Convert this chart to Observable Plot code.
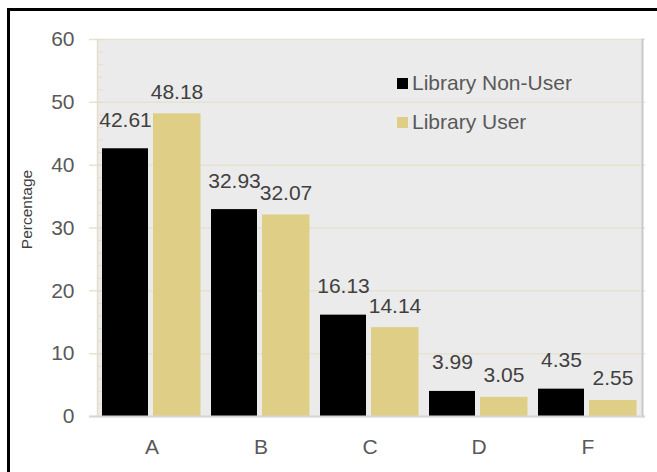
<!DOCTYPE html>
<html>
<head>
<meta charset="utf-8">
<script src="https://cdn.jsdelivr.net/npm/d3@7"></script>
<script src="https://cdn.jsdelivr.net/npm/@observablehq/plot@0.6"></script>
<style>
  html, body { margin: 0; padding: 0; background: #fff; overflow: hidden; }
  #wrap { position: relative; width: 657px; height: 472px; font-family: "Liberation Sans", Arial, sans-serif; }
  .bar-top { position: absolute; left: 7px; top: 8px; width: 650px; height: 3px; background: #000; }
  .bar-left { position: absolute; left: 7px; top: 8px; width: 3px; height: 464px; background: #000; }
  #legend { position: absolute; left: 397px; top: 73px; font-size: 21px; color: #595959; }
  .item { display: flex; align-items: center; height: 20px; margin-bottom: 19px; }
  .sw { width: 11px; height: 11px; margin-right: 4px; }
  svg { position: absolute; left: 0; top: 0; }
</style>
</head>
<body>
<div id="wrap"></div>
<script>
const categories = ["A", "B", "C", "D", "F"];
const series = ["Library Non-User", "Library User"];
const nonUser = [42.61, 32.93, 16.13, 3.99, 4.35];
const user = [48.18, 32.07, 14.14, 3.05, 2.55];
const yTicks = [0, 10, 20, 30, 40, 50, 60];
const minorTicks = d3.range(0, 61, 2);
const colors = ["#000000", "#dfcf86"];
const yLabel = "Percentage";

const rowsNon = categories.map((c, i) => ({category: c, series: series[0], value: nonUser[i]}));
const rowsUser = categories.map((c, i) => ({category: c, series: series[1], value: user[i]}));

const font = '"Liberation Sans", Arial, sans-serif';

const chart = Plot.plot({
  width: 657,
  height: 472,
  marginLeft: 97,
  marginRight: 15,
  marginTop: 39,
  marginBottom: 56,
  style: {fontFamily: font, overflow: "visible", background: "transparent"},
  x: {domain: categories, padding: 0, axis: null},
  y: {domain: [0, 60], axis: null},
  marks: [
    Plot.frame({fill: "#ebebeb", stroke: null}),
    Plot.ruleY(yTicks, {stroke: "#e6e2d1", strokeWidth: 1.5, insetLeft: -8, insetRight: -3}),
    Plot.ruleY(minorTicks, {stroke: "#e2ddcc", insetRight: 539}),
    Plot.frame({anchor: "left", stroke: "#e2ddcc", strokeWidth: 1.5}),
    Plot.frame({anchor: "right", stroke: "#c9c9c9", strokeWidth: 2}),
    Plot.barY(rowsNon, {x: "category", y: "value", fill: colors[0], insetLeft: 5, insetRight: 58}),
    Plot.barY(rowsUser, {x: "category", y: "value", fill: colors[1], insetLeft: 56, insetRight: 5.5}),
    Plot.ruleY([0], {stroke: "#d6d6d6", strokeWidth: 2, insetLeft: -8, insetRight: -3}),
    Plot.text(rowsNon, {x: "category", y: "value", text: d => d.value.toFixed(2), dx: -26.5, dy: -22, lineAnchor: "bottom", fontSize: 21, fill: "#404040"}),
    Plot.text(rowsUser, {x: "category", y: "value", text: d => d.value.toFixed(2), dx: 25, dy: -15, lineAnchor: "bottom", fontSize: 21, fill: "#404040"}),
    Plot.axisY({ticks: yTicks, tickSize: 0, tickPadding: 23, fontSize: 21, fill: "#595959", label: null}),
    Plot.axisX({tickSize: 0, tickPadding: 23, fontSize: 21, fill: "#595959", label: null}),
    Plot.text([yLabel], {frameAnchor: "left", textAnchor: "middle", dx: -70, dy: -18.5, rotate: -90, fontSize: 15.5, fill: "#404040"})
  ]
});

const wrap = document.getElementById("wrap");
wrap.appendChild(chart);

const legend = document.createElement("div");
legend.id = "legend";
series.forEach((s, i) => {
  const item = document.createElement("div");
  item.className = "item";
  const sw = document.createElement("span");
  sw.className = "sw";
  sw.style.background = colors[i];
  const t = document.createElement("span");
  t.textContent = s;
  item.appendChild(sw);
  item.appendChild(t);
  legend.appendChild(item);
});
wrap.appendChild(legend);

["bar-top", "bar-left"].forEach(cls => {
  const b = document.createElement("div");
  b.className = cls;
  wrap.appendChild(b);
});
</script>
</body>
</html>
